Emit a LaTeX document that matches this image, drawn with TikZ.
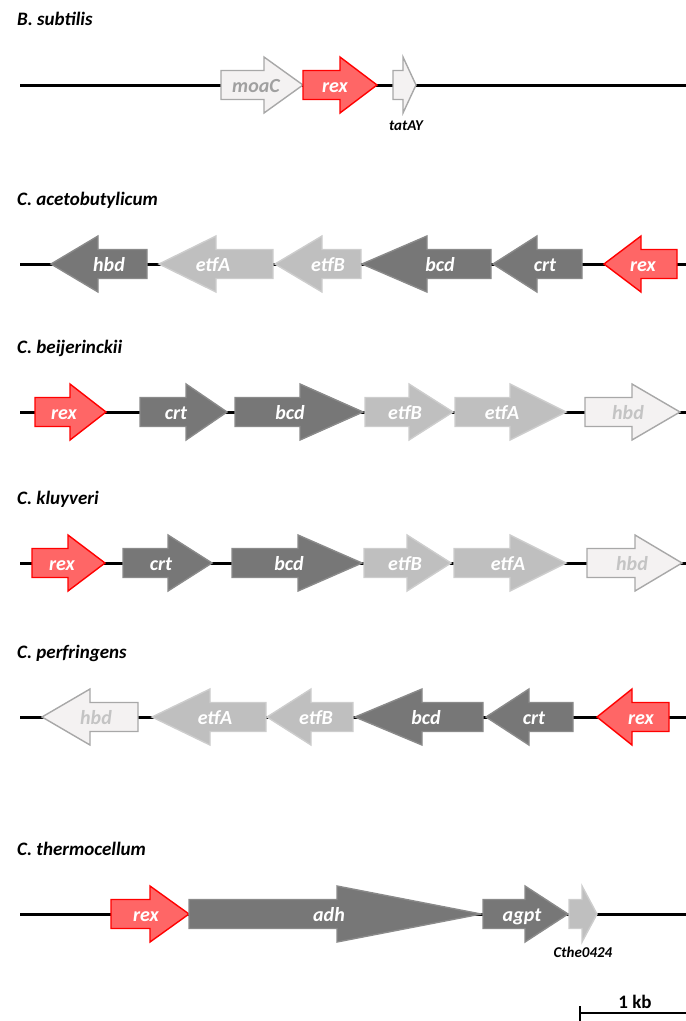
\documentclass[tikz,border=0pt]{standalone}
\usepackage{fontspec}
\setmainfont{Carlito}
\definecolor{dkfill}{RGB}{119,119,119}
\definecolor{dkline}{RGB}{138,138,138}
\definecolor{ltfill}{RGB}{191,191,191}
\definecolor{ltline}{RGB}{205,205,205}
\definecolor{whfill}{RGB}{244,242,242}
\definecolor{whline}{RGB}{168,168,168}
\definecolor{whtext}{RGB}{196,196,196}
\definecolor{motext}{RGB}{160,160,160}
\definecolor{rdfill}{RGB}{255,102,102}
\definecolor{rdline}{RGB}{255,0,0}
\tikzset{
  backbone/.style={line width=3pt, draw=black},
  gbase/.style={line width=1.4pt, line join=miter},
  gdark/.style={gbase, fill=dkfill, draw=dkline},
  glight/.style={gbase, fill=ltfill, draw=ltline},
  gwhite/.style={gbase, fill=whfill, draw=whline},
  gwhitemo/.style={gwhite},
  gred/.style={gbase, fill=rdfill, draw=rdline},
  lbl/.style={font=\fontsize{20}{20}\selectfont\bfseries\itshape, inner sep=0pt, anchor=base},
  gdarklbl/.style={text=white},
  glightlbl/.style={text=white},
  gwhitelbl/.style={text=whtext},
  gwhitemolbl/.style={text=motext},
  gredlbl/.style={text=white},
  title/.style={font=\fontsize{19}{19}\selectfont\bfseries\itshape, inner sep=0pt, anchor=base west},
  small/.style={font=\fontsize{15}{15}\selectfont\bfseries\itshape, inner sep=0pt, anchor=base},
  scaletext/.style={font=\fontsize{19}{19}\selectfont\bfseries, inner sep=0pt, anchor=base},
}
% rightward gene: name, left, headbase, tip, y, style, labelx, label
\newcommand{\geneR}[8]{%
  \draw[#6] (#2,#5-14.5) -- (#3,#5-14.5) -- (#3,#5-28) -- (#4,#5) -- (#3,#5+28) -- (#3,#5+14.5) -- (#2,#5+14.5) -- cycle;
  \node[lbl,#6lbl] (#1) at (#7,#5+7) {#8};
}
% leftward gene: name, tip, headbase, right, y, style, labelx, label
\newcommand{\geneL}[8]{%
  \draw[#6] (#4,#5-14.5) -- (#3,#5-14.5) -- (#3,#5-28) -- (#2,#5) -- (#3,#5+28) -- (#3,#5+14.5) -- (#4,#5+14.5) -- cycle;
  \node[lbl,#6lbl] (#1) at (#7,#5+7) {#8};
}
\begin{document}
\begin{tikzpicture}[x=1pt,y=-1pt]
\useasboundingbox (0,0) rectangle (686,1021);
% ---------- B. subtilis ----------
\node[title] (t1) at (17,25) {B. subtilis};
\coordinate (a1) at (20,85); \coordinate (b1) at (686,85);
\draw[backbone] (a1) -- (b1);
\geneR{bs-moaC}{221}{264}{303}{85}{gwhitemo}{256}{moaC}
\geneR{bs-rex}{303}{340}{377}{85}{gred}{335}{rex}
\draw[gwhite] (393,70.5) -- (403,70.5) -- (403,57) -- (416,85) -- (403,113) -- (403,99.5) -- (393,99.5) -- cycle;
\node[small] (bs-tat) at (406,130) {tatAY};
% ---------- C. acetobutylicum ----------
\node[title] (t2) at (17,205) {C. acetobutylicum};
\coordinate (a2) at (20,264); \coordinate (b2) at (686,264);
\draw[backbone] (a2) -- (b2);
\geneL{ca-hbd}{51}{98}{147}{264}{gdark}{109}{hbd}
\geneL{ca-etfA}{159}{216}{273}{264}{glight}{213}{etfA}
\geneL{ca-etfB}{275}{322}{361}{264}{glight}{328}{etfB}
\geneL{ca-bcd}{362}{427}{491}{264}{gdark}{440}{bcd}
\geneL{ca-crt}{493}{537}{582}{264}{gdark}{545}{crt}
\geneL{ca-rex}{604}{641}{677}{264}{gred}{643}{rex}
% ---------- C. beijerinckii ----------
\node[title] (t3) at (17,353) {C. beijerinckii};
\coordinate (a3) at (20,412); \coordinate (b3) at (686,412);
\draw[backbone] (a3) -- (b3);
\geneR{cb-rex}{35}{70}{106}{412}{gred}{64}{rex}
\geneR{cb-crt}{140}{186}{227}{412}{gdark}{176}{crt}
\geneR{cb-bcd}{235}{300}{363}{412}{gdark}{290}{bcd}
\geneR{cb-etfB}{365}{409}{453}{412}{glight}{405}{etfB}
\geneR{cb-etfA}{455}{510}{566}{412}{glight}{502}{etfA}
\geneR{cb-hbd}{585}{632}{680}{412}{gwhite}{628}{hbd}
% ---------- C. kluyveri ----------
\node[title] (t4) at (17,504) {C. kluyveri};
\coordinate (a4) at (20,563); \coordinate (b4) at (686,563);
\draw[backbone] (a4) -- (b4);
\geneR{ck-rex}{32}{68}{105}{563}{gred}{62}{rex}
\geneR{ck-crt}{123}{168}{212}{563}{gdark}{161}{crt}
\geneR{ck-bcd}{232}{298}{362}{563}{gdark}{289}{bcd}
\geneR{ck-etfB}{364}{407}{451}{563}{glight}{405}{etfB}
\geneR{ck-etfA}{454}{510}{566}{563}{glight}{508}{etfA}
\geneR{ck-hbd}{587}{635}{682}{563}{gwhite}{632}{hbd}
% ---------- C. perfringens ----------
\node[title] (t5) at (17,658) {C. perfringens};
\coordinate (a5) at (20,717); \coordinate (b5) at (686,717);
\draw[backbone] (a5) -- (b5);
\geneL{cp-hbd}{42}{90}{138}{717}{gwhite}{96}{hbd}
\geneL{cp-etfA}{152}{210}{266}{717}{glight}{215}{etfA}
\geneL{cp-etfB}{267}{311}{353}{717}{glight}{316}{etfB}
\geneL{cp-bcd}{355}{422}{483}{717}{gdark}{426}{bcd}
\geneL{cp-crt}{486}{529}{573}{717}{gdark}{534}{crt}
\geneL{cp-rex}{597}{632}{669}{717}{gred}{641}{rex}
% ---------- C. thermocellum ----------
\node[title] (t6) at (17,855) {C. thermocellum};
\coordinate (a6) at (20,914); \coordinate (b6) at (686,914);
\draw[backbone] (a6) -- (b6);
\geneR{ct-rex}{111}{150}{189}{914}{gred}{146}{rex}
\geneR{ct-adh}{189}{337}{481}{914}{gdark}{329}{adh}
\geneR{ct-agpt}{483}{525}{568}{914}{gdark}{522}{agpt}
\draw[glight] (569,899.5) -- (582,899.5) -- (582,886) -- (597,914) -- (582,942) -- (582,928.5) -- (569,928.5) -- cycle;
\node[small] (ct-cthe) at (583,957) {Cthe0424};
% ---------- scale bar ----------
\coordinate (s0) at (580,1013); \coordinate (s1) at (686,1013);
\coordinate (st) at (580,1006); \coordinate (sb) at (580,1021);
\draw[line width=2.4pt] (s0) -- (s1);
\draw[line width=2.4pt] (st) -- (sb);
\node[scaletext] (kb) at (635,1008) {1 kb};
\end{tikzpicture}
\end{document}
